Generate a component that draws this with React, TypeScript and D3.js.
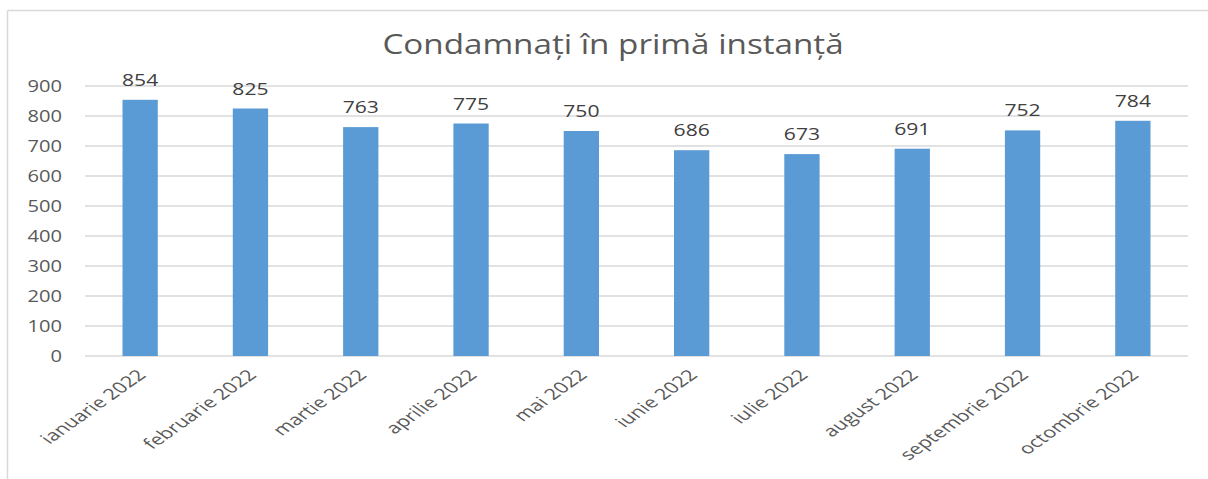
import React from "react";
import * as d3 from "d3";

const categories = ["ianuarie 2022", "februarie 2022", "martie 2022", "aprilie 2022", "mai 2022", "iunie 2022", "iulie 2022", "august 2022", "septembrie 2022", "octombrie 2022"];
const values = [854, 825, 763, 775, 750, 686, 673, 691, 752, 784];
const yTicks = [0, 100, 200, 300, 400, 500, 600, 700, 800, 900];
const title = "Condamnați în primă instanță";

export default function App() {
  const W = 1208, H = 479;
  const x = d3.scaleBand<string>().domain(categories).range([85, 1188]).paddingInner(0.68).paddingOuter(0.34);
  const y = d3.scaleLinear().domain([0, 900]).range([356, 86]);
  const font = "'Open Sans', 'Liberation Sans', sans-serif";
  return (
    <svg width={W} height={H} style={{ position: "absolute", left: 0, top: 0, background: "#fff" }}>
      <line x1={7.5} y1={10.5} x2={W} y2={10.5} stroke="#d9d9d9" strokeWidth={1.5} />
      <line x1={7.5} y1={10.5} x2={7.5} y2={H} stroke="#d9d9d9" strokeWidth={1.5} />
      <text transform={`translate(613,54) scale(1.23,1)`} textAnchor="middle" fontFamily={font} fontSize={27} fill="#595959">{title}</text>
      {yTicks.map(t => (
        <g key={t}>
          <line x1={85} x2={1188} y1={y(t)} y2={y(t)} stroke="#d9d9d9" strokeWidth={1.5} />
          <text transform={`translate(62,${y(t) + 6}) scale(1.22,1)`} textAnchor="end" fontFamily={font} fontSize={16.5} fill="#595959">{t}</text>
        </g>
      ))}
      {categories.map((c, i) => {
        const bx = x(c)!;
        const cx = bx + x.bandwidth() / 2;
        return (
          <g key={c}>
            <rect x={bx} y={y(values[i])} width={x.bandwidth()} height={y(0) - y(values[i])} fill="#5B9BD5" />
            <text transform={`translate(${cx},${y(values[i]) - 14}) scale(1.28,1)`} textAnchor="middle" fontFamily={font} fontSize={16.5} fill="#404040">{values[i]}</text>
            <text transform={`translate(${cx + 7},${376}) scale(1.42,1) rotate(-45)`} textAnchor="end" fontFamily={font} fontSize={15.3} fill="#595959">{c}</text>
          </g>
        );
      })}
    </svg>
  );
}
